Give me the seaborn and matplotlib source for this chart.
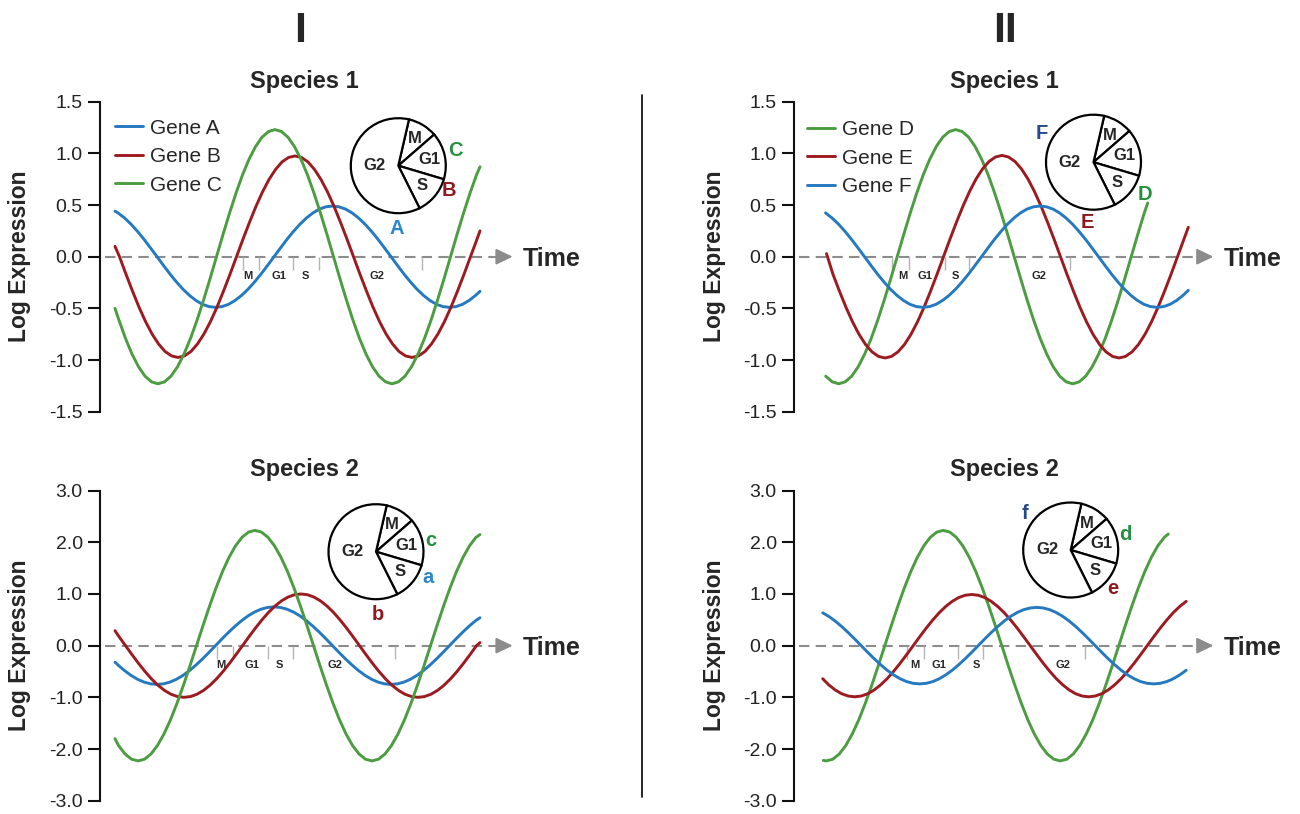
import matplotlib.pyplot as plt
import seaborn as sns
import pandas as pd
from matplotlib.lines import Line2D

sns.set_style("ticks")
plt.rcParams['font.family'] = ['Liberation Sans', 'DejaVu Sans']
plt.rcParams['axes.unicode_minus'] = False

# ---- data (time in arbitrary units, log expression) ----
# I / species 1
t_A = [115, 118.0, 124.5, 131.0, 137.5, 144.0, 150.5, 157.0, 163.5, 170.0, 176.5,
       183.0, 189.5, 196.0, 202.5, 209.0, 215.5, 222.0, 228.5, 235.0, 241.5,
       248.0, 254.5, 261.0, 267.5, 274.0, 280.5, 287.0, 293.5, 300.0, 306.5,
       313.0, 319.5, 326.0, 332.5, 339.0, 345.5, 352.0, 358.5, 365.0, 371.5,
       378.0, 384.5, 391.0, 397.5, 404.0, 410.5, 417.0, 423.5, 430.0, 436.5,
       443.0, 449.5, 456.0, 462.5, 469.0, 475.5, 480]
e_A = [0.44, 0.424, 0.375, 0.315, 0.245, 0.168, 0.085, 0,
       -0.085, -0.168, -0.245, -0.315, -0.375, -0.424, -0.461, -0.483, -0.49,
       -0.483, -0.461, -0.424, -0.375, -0.315, -0.245, -0.168, -0.085, 0,
       0.085, 0.168, 0.245, 0.315, 0.375, 0.424, 0.461, 0.483,
       0.49, 0.483, 0.461, 0.424, 0.375, 0.315, 0.245, 0.168, 0.085, 0,
       -0.085, -0.168, -0.245, -0.315, -0.375, -0.424, -0.461, -0.483, -0.49,
       -0.483, -0.461, -0.424, -0.375, -0.335]
t_B = [115, 119.5, 126.0, 132.5, 139.0, 145.5, 152.0, 158.5, 165.0, 171.5, 178.0,
       184.5, 191.0, 197.5, 204.0, 210.5, 217.0, 223.5, 230.0, 236.5, 243.0,
       249.5, 256.0, 262.5, 269.0, 275.5, 282.0, 288.5, 295.0, 301.5, 308.0,
       314.5, 321.0, 327.5, 334.0, 340.5, 347.0, 353.5, 360.0, 366.5, 373.0,
       379.5, 386.0, 392.5, 399.0, 405.5, 412.0, 418.5, 425.0, 431.5, 438.0,
       444.5, 451.0, 457.5, 464.0, 470.5, 477.0, 480]
e_B = [0.10, 0, -0.170, -0.333, -0.488, -0.627, -0.747, -0.844, -0.917, -0.960, -0.975,
       -0.960, -0.917, -0.844, -0.747, -0.627, -0.488, -0.333, -0.170, 0,
       0.170, 0.333, 0.488, 0.627, 0.747, 0.844, 0.917, 0.960,
       0.975, 0.960, 0.917, 0.844, 0.747, 0.627, 0.488, 0.333, 0.170, 0,
       -0.170, -0.333, -0.488, -0.627, -0.747, -0.844, -0.917, -0.960, -0.975,
       -0.960, -0.917, -0.844, -0.747, -0.627, -0.488, -0.333, -0.170, 0,
       0.170, 0.25]
t_C = [115, 119.0, 125.5, 132.0, 138.5, 145.0, 151.5, 158.0, 164.5, 171.0, 177.5,
       184.0, 190.5, 197.0, 203.5, 210.0, 216.5, 223.0, 229.5, 236.0, 242.5,
       249.0, 255.5, 262.0, 268.5, 275.0, 281.5, 288.0, 294.5, 301.0, 307.5,
       314.0, 320.5, 327.0, 333.5, 340.0, 346.5, 353.0, 359.5, 366.0, 372.5,
       379.0, 385.5, 392.0, 398.5, 405.0, 411.5, 418.0, 424.5, 431.0, 437.5,
       444.0, 450.5, 457.0, 463.5, 470.0, 476.5, 480]
e_C = [-0.50, -0.615, -0.791, -0.942, -1.065, -1.156, -1.211, -1.23,
       -1.211, -1.156, -1.065, -0.942, -0.791, -0.615, -0.421, -0.214, 0,
       0.214, 0.421, 0.615, 0.791, 0.942, 1.065, 1.156, 1.211,
       1.23, 1.211, 1.156, 1.065, 0.942, 0.791, 0.615, 0.421, 0.214, 0,
       -0.214, -0.421, -0.615, -0.791, -0.942, -1.065, -1.156, -1.211, -1.23,
       -1.211, -1.156, -1.065, -0.942, -0.791, -0.615, -0.421, -0.214, 0,
       0.214, 0.421, 0.615, 0.791, 0.87]

# I / species 2 (a and b were sampled at the same times as A and C)
t_a = t_A
e_a = [-0.32, -0.375, -0.482, -0.575, -0.650, -0.705, -0.739, -0.75,
       -0.739, -0.705, -0.650, -0.575, -0.482, -0.375, -0.257, -0.131, 0,
       0.131, 0.257, 0.375, 0.482, 0.575, 0.650, 0.705, 0.739,
       0.75, 0.739, 0.705, 0.650, 0.575, 0.482, 0.375, 0.257, 0.131, 0,
       -0.131, -0.257, -0.375, -0.482, -0.575, -0.650, -0.705, -0.739, -0.75,
       -0.739, -0.705, -0.650, -0.575, -0.482, -0.375, -0.257, -0.131, 0,
       0.131, 0.257, 0.375, 0.482, 0.54]
t_b = t_C
e_b = [0.29, 0.174, 0,
       -0.174, -0.342, -0.5, -0.643, -0.766, -0.866, -0.940, -0.985, -1,
       -0.985, -0.940, -0.866, -0.766, -0.643, -0.5, -0.342, -0.174, 0,
       0.174, 0.342, 0.5, 0.643, 0.766, 0.866, 0.940, 0.985,
       1, 0.985, 0.940, 0.866, 0.766, 0.643, 0.5, 0.342, 0.174, 0,
       -0.174, -0.342, -0.5, -0.643, -0.766, -0.866, -0.940, -0.985, -1,
       -0.985, -0.940, -0.866, -0.766, -0.643, -0.5, -0.342, -0.174, 0,
       0.06]
t_c = [115, 118.5, 125.0, 131.5, 138.0, 144.5, 151.0, 157.5, 164.0, 170.5, 177.0,
       183.5, 190.0, 196.5, 203.0, 209.5, 216.0, 222.5, 229.0, 235.5, 242.0,
       248.5, 255.0, 261.5, 268.0, 274.5, 281.0, 287.5, 294.0, 300.5, 307.0,
       313.5, 320.0, 326.5, 333.0, 339.5, 346.0, 352.5, 359.0, 365.5, 372.0,
       378.5, 385.0, 391.5, 398.0, 404.5, 411.0, 417.5, 424.0, 430.5, 437.0,
       443.5, 450.0, 456.5, 463.0, 469.5, 476.0, 480]
e_c = [-1.80, -1.931, -2.096, -2.197, -2.23,
       -2.197, -2.096, -1.931, -1.708, -1.434, -1.115, -0.763, -0.388, 0,
       0.388, 0.763, 1.115, 1.434, 1.708, 1.931, 2.096, 2.197,
       2.23, 2.197, 2.096, 1.931, 1.708, 1.434, 1.115, 0.763, 0.388, 0,
       -0.388, -0.763, -1.115, -1.434, -1.708, -1.931, -2.096, -2.197, -2.23,
       -2.197, -2.096, -1.931, -1.708, -1.434, -1.115, -0.763, -0.388, 0,
       0.388, 0.763, 1.115, 1.434, 1.708, 1.931, 2.096, 2.15]

# II / species 1
t_D = [825.7, 832.2, 838.7, 845.2, 851.7, 858.2, 864.7, 871.2, 877.7, 884.2,
       890.7, 897.2, 903.7, 910.2, 916.7, 923.2, 929.7, 936.2, 942.7, 949.2,
       955.7, 962.2, 968.7, 975.2, 981.7, 988.2, 994.7, 1001.2, 1007.7, 1014.2,
       1020.7, 1027.2, 1033.7, 1040.2, 1046.7, 1053.2, 1059.7, 1066.2, 1072.7, 1079.2,
       1085.7, 1092.2, 1098.7, 1105.2, 1111.7, 1118.2, 1124.7, 1131.2, 1137.7, 1144.2, 1147.7]
e_D = [-1.156, -1.211, -1.23,
       -1.211, -1.156, -1.065, -0.942, -0.791, -0.615, -0.421, -0.214, 0,
       0.214, 0.421, 0.615, 0.791, 0.942, 1.065, 1.156, 1.211,
       1.23, 1.211, 1.156, 1.065, 0.942, 0.791, 0.615, 0.421, 0.214, 0,
       -0.214, -0.421, -0.615, -0.791, -0.942, -1.065, -1.156, -1.211, -1.23,
       -1.211, -1.156, -1.065, -0.942, -0.791, -0.615, -0.421, -0.214, 0,
       0.214, 0.421, 0.52]
t_E = [826.5, 833.0, 839.5, 846.0, 852.5, 859.0, 865.5, 872.0, 878.5, 885.0,
       891.5, 898.0, 904.5, 911.0, 917.5, 924.0, 930.5, 937.0, 943.5, 950.0,
       956.5, 963.0, 969.5, 976.0, 982.5, 989.0, 995.5, 1002.0, 1008.5, 1015.0,
       1021.5, 1028.0, 1034.5, 1041.0, 1047.5, 1054.0, 1060.5, 1067.0, 1073.5, 1080.0,
       1086.5, 1093.0, 1099.5, 1106.0, 1112.5, 1119.0, 1125.5, 1132.0, 1138.5, 1145.0,
       1151.5, 1158.0, 1164.5, 1171.0, 1177.5, 1184.0, 1188.3]
e_E = [0.03, -0.171, -0.335, -0.49, -0.630, -0.751, -0.849, -0.921, -0.965, -0.98,
       -0.965, -0.921, -0.849, -0.751, -0.630, -0.49, -0.335, -0.171, 0,
       0.171, 0.335, 0.49, 0.630, 0.751, 0.849, 0.921, 0.965,
       0.98, 0.965, 0.921, 0.849, 0.751, 0.630, 0.49, 0.335, 0.171, 0,
       -0.171, -0.335, -0.49, -0.630, -0.751, -0.849, -0.921, -0.965, -0.98,
       -0.965, -0.921, -0.849, -0.751, -0.630, -0.49, -0.335, -0.171, 0,
       0.171, 0.285]
t_F = [825.5, 832.0, 838.5, 845.0, 851.5, 858.0, 864.5, 871.0, 877.5, 884.0,
       890.5, 897.0, 903.5, 910.0, 916.5, 923.0, 929.5, 936.0, 942.5, 949.0,
       955.5, 962.0, 968.5, 975.0, 981.5, 988.0, 994.5, 1001.0, 1007.5, 1014.0,
       1020.5, 1027.0, 1033.5, 1040.0, 1046.5, 1053.0, 1059.5, 1066.0, 1072.5, 1079.0,
       1085.5, 1092.0, 1098.5, 1105.0, 1111.5, 1118.0, 1124.5, 1131.0, 1137.5, 1144.0,
       1150.5, 1157.0, 1163.5, 1170.0, 1176.5, 1183.0, 1188.3]
e_F = [0.424, 0.375, 0.315, 0.245, 0.168, 0.085, 0,
       -0.085, -0.168, -0.245, -0.315, -0.375, -0.424, -0.461, -0.483, -0.49,
       -0.483, -0.461, -0.424, -0.375, -0.315, -0.245, -0.168, -0.085, 0,
       0.085, 0.168, 0.245, 0.315, 0.375, 0.424, 0.461, 0.483,
       0.49, 0.483, 0.461, 0.424, 0.375, 0.315, 0.245, 0.168, 0.085, 0,
       -0.085, -0.168, -0.245, -0.315, -0.375, -0.424, -0.461, -0.483, -0.49,
       -0.483, -0.461, -0.424, -0.375, -0.325]

# II / species 2
t_d = [823.3, 826.3, 832.8, 839.3, 845.8, 852.3, 858.8, 865.3, 871.8, 878.3, 884.8,
       891.3, 897.8, 904.3, 910.8, 917.3, 923.8, 930.3, 936.8, 943.3, 949.8,
       956.3, 962.8, 969.3, 975.8, 982.3, 988.8, 995.3, 1001.8, 1008.3, 1014.8,
       1021.3, 1027.8, 1034.3, 1040.8, 1047.3, 1053.8, 1060.3, 1066.8, 1073.3, 1079.8,
       1086.3, 1092.8, 1099.3, 1105.8, 1112.3, 1118.8, 1125.3, 1131.8, 1138.3, 1144.8,
       1151.3, 1157.8, 1164.3, 1168.3]
e_d = [-2.22, -2.23,
       -2.197, -2.096, -1.931, -1.708, -1.434, -1.115, -0.763, -0.388, 0,
       0.388, 0.763, 1.115, 1.434, 1.708, 1.931, 2.096, 2.197,
       2.23, 2.197, 2.096, 1.931, 1.708, 1.434, 1.115, 0.763, 0.388, 0,
       -0.388, -0.763, -1.115, -1.434, -1.708, -1.931, -2.096, -2.197, -2.23,
       -2.197, -2.096, -1.931, -1.708, -1.434, -1.115, -0.763, -0.388, 0,
       0.388, 0.763, 1.115, 1.434, 1.708, 1.931, 2.096, 2.16]
t_e = [822.7, 828.7, 835.2, 841.7, 848.2, 854.7, 861.2, 867.7, 874.2, 880.7, 887.2,
       893.7, 900.2, 906.7, 913.2, 919.7, 926.2, 932.7, 939.2, 945.7, 952.2,
       958.7, 965.2, 971.7, 978.2, 984.7, 991.2, 997.7, 1004.2, 1010.7, 1017.2,
       1023.7, 1030.2, 1036.7, 1043.2, 1049.7, 1056.2, 1062.7, 1069.2, 1075.7, 1082.2,
       1088.7, 1095.2, 1101.7, 1108.2, 1114.7, 1121.2, 1127.7, 1134.2, 1140.7, 1147.2,
       1153.7, 1160.2, 1166.7, 1173.2, 1179.7, 1186.2]
e_e = [-0.64, -0.758, -0.857, -0.931, -0.975, -0.99,
       -0.975, -0.931, -0.857, -0.758, -0.637, -0.495, -0.339, -0.172, 0,
       0.172, 0.339, 0.495, 0.637, 0.758, 0.857, 0.931, 0.975,
       0.99, 0.975, 0.931, 0.857, 0.758, 0.637, 0.495, 0.339, 0.172, 0,
       -0.172, -0.339, -0.495, -0.637, -0.758, -0.857, -0.931, -0.975, -0.99,
       -0.975, -0.931, -0.857, -0.758, -0.637, -0.495, -0.339, -0.172, 0,
       0.172, 0.339, 0.495, 0.637, 0.758, 0.857]
t_f = t_e
e_f = [0.635, 0.567, 0.476, 0.37, 0.253, 0.129, 0,
       -0.129, -0.253, -0.37, -0.476, -0.567, -0.641, -0.696, -0.729, -0.74,
       -0.729, -0.696, -0.641, -0.567, -0.476, -0.37, -0.253, -0.129, 0,
       0.129, 0.253, 0.37, 0.476, 0.567, 0.641, 0.696, 0.729,
       0.74, 0.729, 0.696, 0.641, 0.567, 0.476, 0.37, 0.253, 0.129, 0,
       -0.129, -0.253, -0.37, -0.476, -0.567, -0.641, -0.696, -0.729, -0.74,
       -0.729, -0.696, -0.641, -0.567, -0.476]

# cell-cycle phases (share of the cycle, %) and where the phase boundaries sit on the time axis
phase_names = ['M', 'G1', 'S', 'G2']
phase_frac = [10, 16, 13, 61]
phase_t_I1 = [242.7, 259.3, 292.7, 319.0, 421.7]
phase_t_I2 = [217.3, 233.3, 268.3, 293.3, 395.0]
phase_t_II1 = [892.0, 908.8, 944.8, 969.0, 1070.0]
phase_t_II2 = [906.7, 924.0, 957.7, 983.3, 1085.0]
phase_lab_I1 = [247.7, 279.3, 305.0, 376.7]
phase_lab_I2 = [220.7, 251.7, 279.5, 335.3]
phase_lab_II1 = [902.5, 924.5, 955.0, 1039.0]
phase_lab_II2 = [915.3, 939.3, 976.0, 1062.7]

ticks_15 = [1.5, 1.0, 0.5, 0.0, -0.5, -1.0, -1.5]
ticks_30 = [3.0, 2.0, 1.0, 0.0, -1.0, -2.0, -3.0]

BLUE, RED, GREEN = '#2479c0', '#9c1b20', '#4c9c41'
GRAY = '#8c8c8c'

W, H = 1300, 814
fig = plt.figure(figsize=(W / 100, H / 100), dpi=100)


def fx(x):
    return x / W


def fy(y):
    return 1 - y / H


def draw_panel(left, top, bottom, ymax, yticks, curves, phase_t, phase_lab, tip, legend_x, legend_top):
    ax = fig.add_axes([fx(left), fy(bottom), 420 / W, (bottom - top) / H])
    ax.patch.set_alpha(0)
    frames = [pd.DataFrame({'time': t, 'expr': e, 'gene': name}) for name, t, e, _ in curves]
    df = pd.concat(frames, ignore_index=True)
    names = [c[0] for c in curves]
    sns.lineplot(data=df, x='time', y='expr', hue='gene', hue_order=names,
                 palette=[c[3] for c in curves], estimator=None, sort=False, lw=2.1, ax=ax)
    ax.set_xlim(left, left + 420)
    ax.set_ylim(-ymax, ymax)
    px = 2 * ymax / (bottom - top)  # data units per pixel

    # dashed time axis with arrow head
    ax.axhline(0, xmin=5 / 420, xmax=(tip - 13 - left) / 420, color=GRAY, lw=1.5, ls=(0, (5, 3)), zorder=1)
    ax.annotate('', xy=(tip, 0), xytext=(tip - 14, 0),
                arrowprops=dict(arrowstyle='-|>,head_length=0.5,head_width=0.24', mutation_scale=20,
                                color=GRAY, lw=1.5, shrinkA=0, shrinkB=0))
    fig.text(fx(tip + 10), fy((top + bottom) / 2 + 9.5), 'Time', fontsize=18, fontweight='bold', va='baseline')

    # phase boundaries below the time axis
    ax.vlines(phase_t, -13 * px, 0, color='#b4b4b4', lw=1, zorder=1)
    for name, t in zip(phase_names, phase_lab):
        ax.text(t, -19 * px, name, ha='center', va='center', fontsize=8, fontweight='bold')

    ax.set_yticks(yticks)
    ax.set_yticklabels([f'{v:.1f}' for v in yticks])
    ax.set_xticks([])
    ax.set_xlabel('')
    ax.set_ylabel('')
    sns.despine(ax=ax, bottom=True)
    ax.spines['left'].set_linewidth(1.5)
    ax.spines['left'].set_color('#111111')
    ax.tick_params(axis='y', length=8.5, width=1.5, labelsize=14, pad=4, color='#111111', labelcolor='#222222')
    fig.text(fx(left - 80), fy((top + bottom) / 2), 'Log Expression', rotation=90,
             ha='center', va='center', fontsize=16.5, fontweight='bold')

    if legend_x is not None:
        sns.move_legend(ax, 'upper left', bbox_to_anchor=(fx(legend_x), fy(legend_top)),
                        bbox_transform=fig.transFigure, title=None, frameon=False, fontsize=15,
                        handlelength=1.35, handletextpad=0.35, labelspacing=0.46, borderpad=0, borderaxespad=0)
    else:
        ax.get_legend().remove()
    return ax


def draw_pie(cx, cy, r=47.5):
    ax = fig.add_axes([fx(cx - r), fy(cy + r), 2 * r / W, 2 * r / H])
    wedges, texts = ax.pie(phase_frac, labels=phase_names, startangle=77, counterclock=False,
                           colors=['white'] * 4, labeldistance=0.66,
                           wedgeprops=dict(edgecolor='black', linewidth=1.6),
                           textprops=dict(fontsize=12, fontweight='bold'))
    for w in wedges:
        w.set_clip_on(False)
    for t in texts:
        t.set_ha('center')
        t.set_va('center')
    texts[3].set_position((-0.5, 0.0))
    ax.set_xlim(-1, 1)
    ax.set_ylim(-1, 1)
    ax.set_aspect('equal')
    ax.set_axis_off()


draw_panel(100, 101.7, 411.7, 1.5, ticks_15,
           [('Gene A', t_A, e_A, BLUE), ('Gene B', t_B, e_B, RED), ('Gene C', t_C, e_C, GREEN)],
           phase_t_I1, phase_lab_I1, 512.7, 115, 118.5)
draw_panel(100, 490.6, 800.7, 3.0, ticks_30,
           [('Gene a', t_a, e_a, BLUE), ('Gene b', t_b, e_b, RED), ('Gene c', t_c, e_c, GREEN)],
           phase_t_I2, phase_lab_I2, 512.7, None, None)
draw_panel(794, 101.7, 411.7, 1.5, ticks_15,
           [('Gene D', t_D, e_D, GREEN), ('Gene E', t_E, e_E, RED), ('Gene F', t_F, e_F, BLUE)],
           phase_t_II1, phase_lab_II1, 1213.5, 806.7, 120)
draw_panel(794, 490.6, 800.7, 3.0, ticks_30,
           [('Gene d', t_d, e_d, GREEN), ('Gene e', t_e, e_e, RED), ('Gene f', t_f, e_f, BLUE)],
           phase_t_II2, phase_lab_II2, 1213.5, None, None)

draw_pie(398.3, 165.7)
draw_pie(376.0, 551.7)
draw_pie(1093.5, 162.2)
draw_pie(1070.7, 550.0)

# gene letters around the pies
L_BLUE, L_NAVY, L_RED, L_GREEN = '#2a87cc', '#27498c', '#8e1a1f', '#22903e'
letters = [('C', 455, 150, L_GREEN), ('B', 449.3, 190, L_RED), ('A', 396.7, 228, L_BLUE),
           ('c', 431, 540, L_GREEN), ('a', 427.7, 577.7, L_BLUE), ('b', 378.3, 614.3, L_RED),
           ('F', 1041.5, 133.5, L_NAVY), ('D', 1145, 194, L_GREEN), ('E', 1087.5, 222, L_RED),
           ('f', 1025, 513.3, L_NAVY), ('d', 1125, 535, L_GREEN), ('e', 1113.3, 588.3, L_RED)]
for s, x, y, c in letters:
    fig.text(fx(x), fy(y), s, color=c, fontsize=14.5, fontweight='bold', ha='center', va='center')

# titles
fig.text(fx(304.5), fy(88), 'Species 1', fontsize=17, fontweight='bold', ha='center', va='baseline')
fig.text(fx(304.5), fy(476), 'Species 2', fontsize=17, fontweight='bold', ha='center', va='baseline')
fig.text(fx(1004), fy(88), 'Species 1', fontsize=17, fontweight='bold', ha='center', va='baseline')
fig.text(fx(1004), fy(476), 'Species 2', fontsize=17, fontweight='bold', ha='center', va='baseline')
fig.text(fx(300), fy(42), 'I', fontsize=31, fontweight='bold', ha='center', va='baseline')
fig.text(fx(1005), fy(42), 'II', fontsize=31, fontweight='bold', ha='center', va='baseline')

fig.add_artist(Line2D([fx(642), fx(642)], [fy(95), fy(797)], color='black', lw=1.2))

fig.savefig('out.png', dpi=100)
